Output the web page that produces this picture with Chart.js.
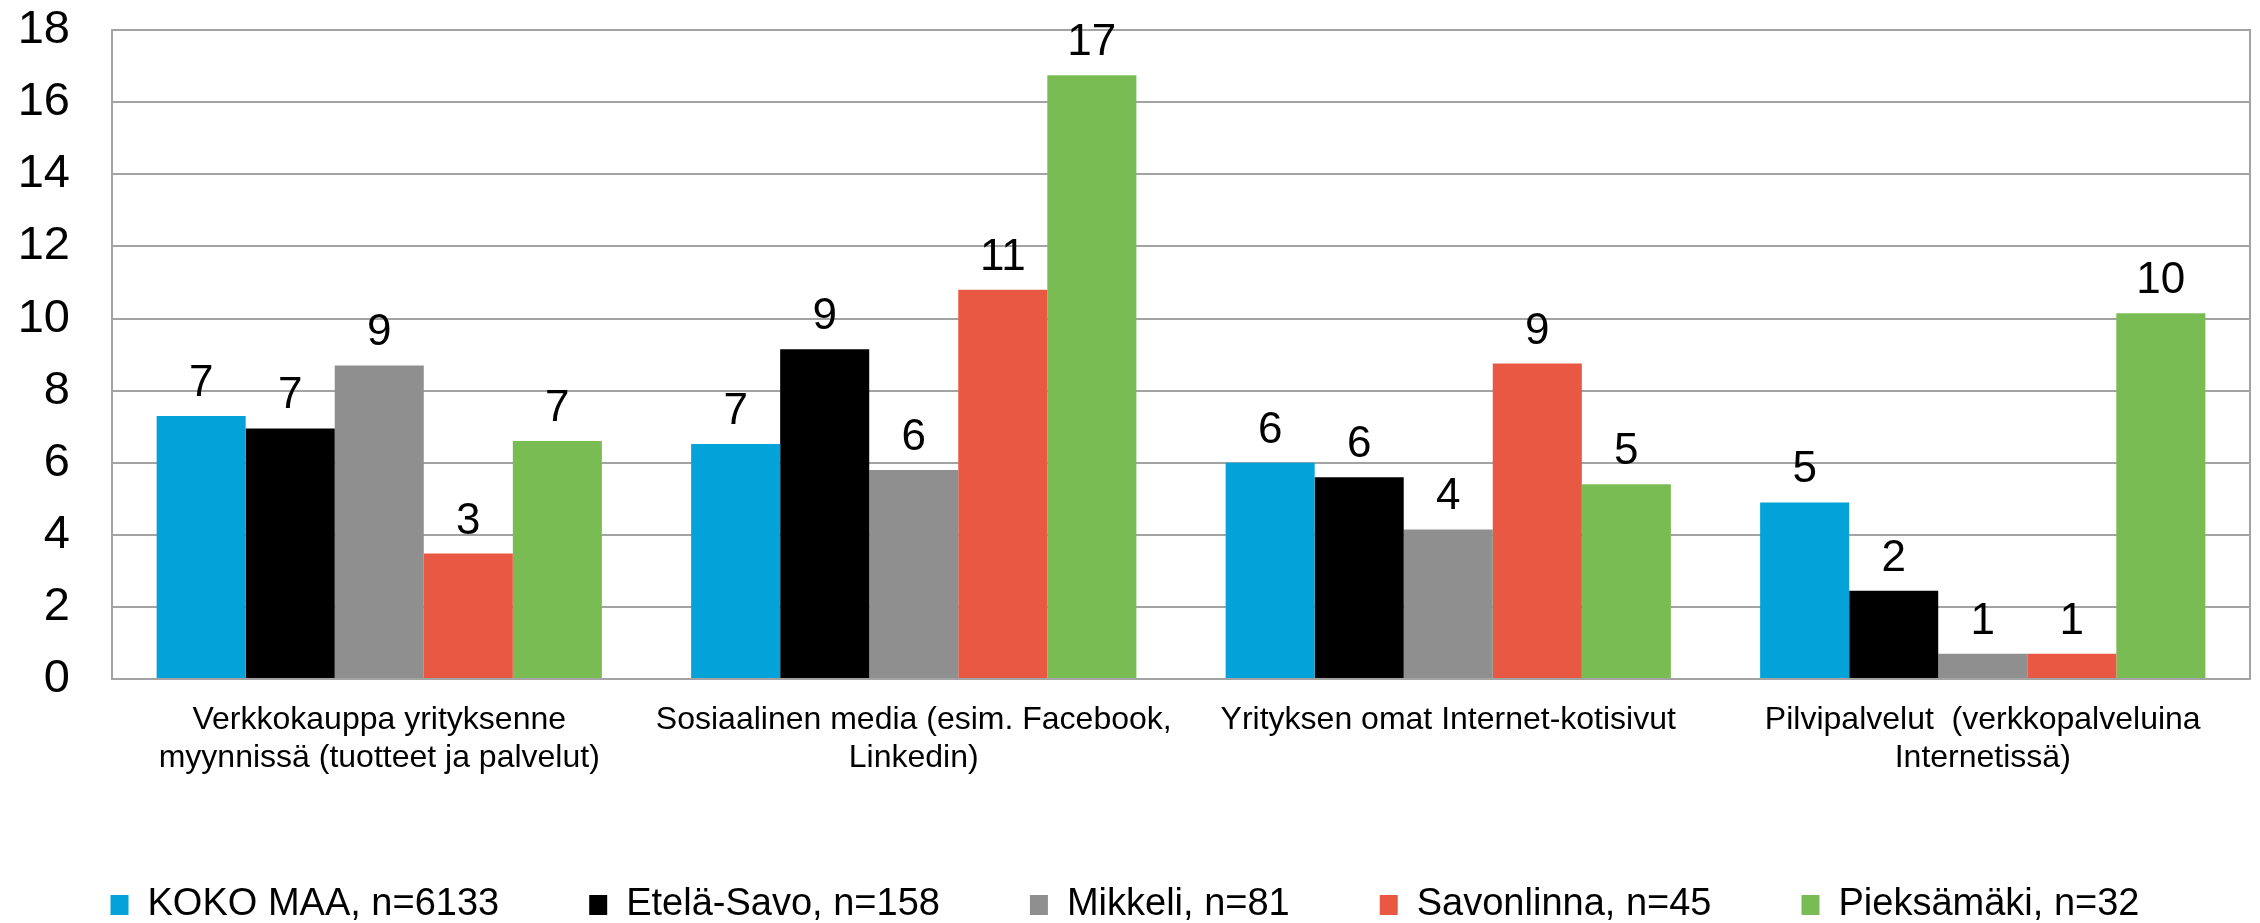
<!DOCTYPE html>
<html>
<head>
<meta charset="utf-8">
<script src="https://cdn.jsdelivr.net/npm/chart.js@4.4.0/dist/chart.umd.min.js"></script>
<style>
  html, body { margin: 0; padding: 0; background: #fff; }
  #wrap { width: 2260px; height: 923px; position: relative; }
</style>
</head>
<body>
<div id="wrap"><canvas id="myChart"></canvas></div>
<script>
// categories (x axis)
var categories = [
  ['Verkkokauppa yrityksenne', 'myynnissä (tuotteet ja palvelut)'],
  ['Sosiaalinen media (esim. Facebook,', 'Linkedin)'],
  'Yrityksen omat Internet-kotisivut',
  ['Pilvipalvelut  (verkkopalveluina', 'Internetissä)']
];

// series names
var seriesNames = ['KOKO MAA, n=6133', 'Etelä-Savo, n=158', 'Mikkeli, n=81', 'Savonlinna, n=45', 'Pieksämäki, n=32'];

// values
var kokoMaa    = [7.3, 6.52, 6.0, 4.9];
var etelaSavo  = [6.95, 9.15, 5.6, 2.45];
var mikkeli    = [8.7, 5.8, 4.15, 0.7];
var savonlinna = [3.48, 10.8, 8.75, 0.7];
var pieksamaki = [6.6, 16.75, 5.4, 10.15];

var seriesColors = ['#03a3d9', '#000000', '#8f8f8f', '#e85842', '#7abc54'];

// y axis ticks
var yMin = 0, yMax = 18, yStep = 2;

var font = "'Liberation Sans', Arial, sans-serif";
var gridColor = '#a3a3a3';

var allSeries = [kokoMaa, etelaSavo, mikkeli, savonlinna, pieksamaki];
var datasets = [];
for (let s = 0; s < allSeries.length; s++) {
  datasets.push({
    label: seriesNames[s],
    data: allSeries[s],
    backgroundColor: seriesColors[s],
    borderWidth: 0,
    categoryPercentage: 0.833,
    barPercentage: 1.0
  });
}

// value labels above each bar (rounded like in the original)
var barLabels = {
  id: 'barLabels',
  afterDatasetsDraw(chart) {
    var ctx = chart.ctx;
    ctx.save();
    ctx.font = '44px ' + font;
    ctx.fillStyle = '#000';
    ctx.textAlign = 'center';
    ctx.textBaseline = 'alphabetic';
    chart.data.datasets.forEach(function (ds, i) {
      var meta = chart.getDatasetMeta(i);
      meta.data.forEach(function (bar, j) {
        ctx.fillText(String(Math.round(ds.data[j])), bar.x, bar.y - 20);
      });
    });
    ctx.restore();
  }
};

var ctx = document.getElementById('myChart').getContext('2d');
var chart = new Chart(ctx, {
  type: 'bar',
  data: {
    labels: categories,
    datasets: datasets
  },
  plugins: [barLabels],
  options: {
    responsive: true,
    maintainAspectRatio: false,
    animation: false,
    layout: { padding: { top: 2, right: 10, left: 0, bottom: -11 } },
    plugins: {
      tooltip: { enabled: false },
      legend: {
        position: 'bottom',
        labels: {
          color: '#000',
          font: { family: font, size: 38 },
          boxWidth: 18,
          boxHeight: 20,
          padding: 90
        }
      }
    },
    scales: {
      x: {
        grid: { display: false },
        border: { display: true, color: gridColor, width: 2 },
        ticks: {
          color: '#000',
          font: { family: font, size: 32 },
          autoSkip: false,
          maxRotation: 0,
          minRotation: 0,
          padding: 14
        },
        afterFit: function (axis) { axis.height = 117; }
      },
      y: {
        min: yMin,
        max: yMax,
        ticks: {
          stepSize: yStep,
          color: '#000',
          font: { family: font, size: 47 },
          padding: 2
        },
        grid: { color: gridColor, lineWidth: 2, drawTicks: true, tickLength: 40, tickColor: 'rgba(0,0,0,0)' },
        border: { display: true, color: gridColor, width: 2 },
        afterFit: function (axis) { axis.width = 112; }
      },
      right: {
        position: 'right',
        grid: { display: false },
        ticks: { display: false },
        border: { display: true, color: gridColor, width: 2 },
        afterFit: function (axis) { axis.width = 0; }
      }
    }
  }
});
</script>
</body>
</html>
